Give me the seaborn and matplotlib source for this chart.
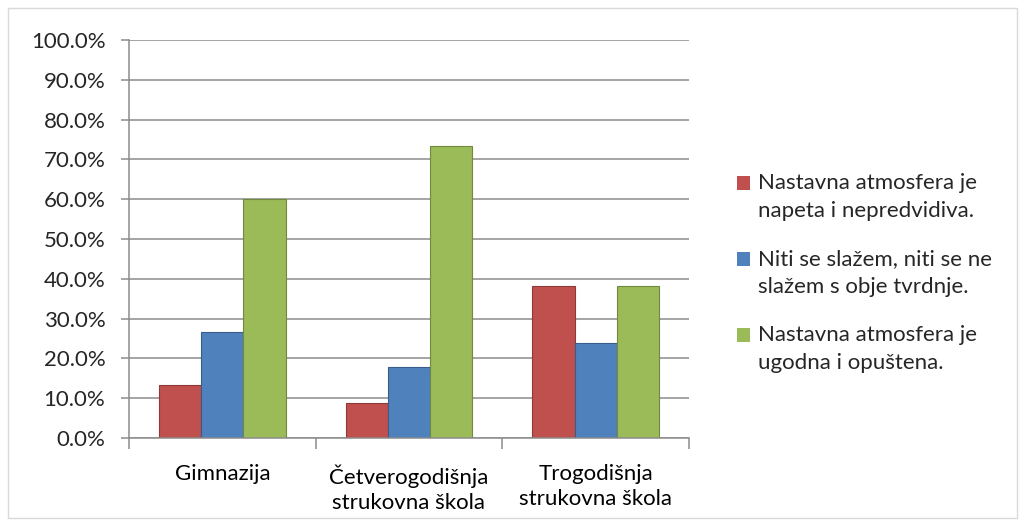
import matplotlib
matplotlib.use("Agg")
import matplotlib.pyplot as plt
import seaborn as sns
import pandas as pd
from matplotlib.patches import Rectangle
from matplotlib.legend_handler import HandlerPatch
from matplotlib.ticker import FixedLocator, PercentFormatter

categories = ["Gimnazija", "Četverogodišnja\nstrukovna škola", "Trogodišnja\nstrukovna škola"]
series = ["Nastavna atmosfera je\nnapeta i nepredvidiva.",
          "Niti se slažem, niti se ne\nslažem s obje tvrdnje.",
          "Nastavna atmosfera je\nugodna i opuštena."]
s1 = [13.3, 8.9, 38.1]
s2 = [26.7, 17.8, 23.8]
s3 = [60.0, 73.3, 38.1]
colors = ["#C0504D", "#4F81BD", "#9BBB59"]
edge_colors = ["#8E3A38", "#385D8A", "#71893F"]

rows = []
for name, vals in zip(series, [s1, s2, s3]):
    for c, v in zip(categories, vals):
        rows.append({"cat": c, "series": name, "val": v})
df = pd.DataFrame(rows)

sns.set_theme(style="white")
plt.rcParams['font.family'] = ['Lato', 'DejaVu Sans']
FS = 16

fig = plt.figure(figsize=(10.25, 5.26), dpi=100)
ax = fig.add_axes([129/1025, 1-438/526, (689-129)/1025, (438-40)/526])
ax.set_axisbelow(True)
sns.barplot(data=df, x="cat", y="val", hue="series", palette=colors,
            width=0.68, ax=ax, saturation=1, legend=True)

for i, cont in enumerate(ax.containers):
    for bar in cont:
        bar.set_edgecolor(edge_colors[i])
        bar.set_linewidth(0.8)

ax.set_xlim(-0.5, 2.5)
ax.set_ylim(0, 100)
ax.set_yticks(range(0, 101, 10))
ax.yaxis.set_major_formatter(PercentFormatter(decimals=1))
ax.grid(axis="y", color="#8C8C8C", linewidth=1.1)
ax.grid(axis="x", visible=False)
ax.set_xlabel("")
ax.set_ylabel("")
for sp in ["top", "right"]:
    ax.spines[sp].set_visible(False)
for sp in ["left", "bottom"]:
    ax.spines[sp].set_color("#8C8C8C")
    ax.spines[sp].set_linewidth(1.1)

ax.xaxis.set_minor_locator(FixedLocator([-0.5, 0.5, 1.5, 2.5]))
ax.tick_params(axis="x", which="major", length=0, labelsize=FS, pad=19, colors="black")
ax.tick_params(axis="x", which="minor", length=8, width=1.1, color="#8C8C8C", direction="out", bottom=True)
ax.tick_params(axis="y", length=6, width=1.1, color="#8C8C8C", direction="out", labelsize=FS, left=True, pad=11)
for lab in ax.get_xticklabels():
    lab.set_horizontalalignment("center")
    lab.set_linespacing(1.3)


def raised_square(legend, orig_handle, xdescent, ydescent, width, height, fontsize):
    return Rectangle((-xdescent, -ydescent + 10), width, height)


handles, labels = ax.get_legend_handles_labels()
leg = ax.legend(handles, labels, loc="center left", bbox_to_anchor=(717/1025, 1-273/526),
                bbox_transform=fig.transFigure, frameon=False, fontsize=FS,
                handlelength=0.6, handleheight=0.6, handletextpad=0.35,
                labelspacing=1.3,
                handler_map={Rectangle: HandlerPatch(patch_func=raised_square)})
for h in leg.legend_handles:
    h.set_edgecolor("none")
for t in leg.get_texts():
    t.set_linespacing(1.45)

fig.patches.append(Rectangle((8/1025, 8/526), 1-16/1025, 1-16/526, transform=fig.transFigure,
                             fill=False, edgecolor="#D9D9D9", linewidth=1))

fig.savefig("out.png", dpi=100, facecolor="white")
